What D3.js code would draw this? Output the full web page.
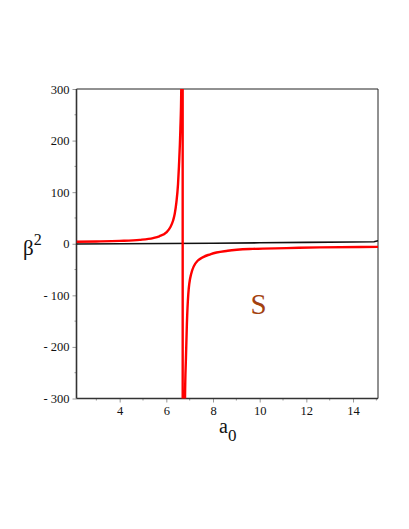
<!DOCTYPE html>
<html>
<head>
<meta charset="utf-8">
<script src="https://cdn.jsdelivr.net/npm/d3@7"></script>
<style>
  body { margin: 0; background: #fff; }
</style>
</head>
<body>
<div id="chart"></div>
<script>
// values
var xTicks = [4, 6, 8, 10, 12, 14];
var xMinor = [3, 5, 7, 9, 11, 13, 15];
var yTicks = [-300, -200, -100, 0, 100, 200, 300];
var yMinor = [-250, -150, -50, 50, 150, 250];

// red curve (one branch each side of the pole, joined across it)
var a0Red = [2.15, 3, 4, 4.86, 5.43, 5.7, 6.0, 6.17, 6.29, 6.36, 6.43, 6.5, 6.54, 6.6, 6.64, 6.695,
             6.705, 6.8, 6.84, 6.88, 6.94, 7.06, 7.34, 7.91, 8.63, 9.71, 11.14, 12.57, 15.07];
var beta2Red = [4, 4.5, 5.5, 7.5, 11, 14.5, 22, 32, 45, 58, 80, 115, 150, 220, 300, 2500,
                -2500, -300, -221, -156, -98, -59, -33, -20, -13.6, -10, -8.5, -7, -6];

// black curve, close to zero
var a0Black = [2.15, 4, 6, 8, 10, 12, 14, 14.9, 15.07];
var beta2Black = [-0.5, 0, 0.5, 1, 1.8, 2.6, 3.4, 4, 6];

var serif = "'Liberation Serif', 'Times New Roman', serif";

var W = 409, H = 529;
var margin = {top: 89, right: 31, bottom: 130.5, left: 76.5};
var width = W - margin.left - margin.right,
    height = H - margin.top - margin.bottom;

var svg = d3.select("#chart").append("svg")
  .attr("width", W)
  .attr("height", H);

var g = svg.append("g")
  .attr("transform", "translate(" + margin.left + "," + margin.top + ")");

var x = d3.scaleLinear().domain([2.15, 15.07]).range([0, width]);
var y = d3.scaleLinear().domain([-300, 300]).range([height, 0]);

g.append("clipPath").attr("id", "clip")
  .append("rect").attr("width", width).attr("height", height);

// minor ticks
g.selectAll("line.xminor").data(xMinor).enter().append("line")
  .attr("x1", function(d) { return x(d); }).attr("x2", function(d) { return x(d); })
  .attr("y1", height).attr("y2", height + 2)
  .attr("stroke", "#999");
g.selectAll("line.yminor").data(yMinor).enter().append("line")
  .attr("y1", function(d) { return y(d); }).attr("y2", function(d) { return y(d); })
  .attr("x1", 0).attr("x2", -2)
  .attr("stroke", "#999");

// axes
var xAxis = g.append("g")
  .attr("transform", "translate(0," + height + ")")
  .call(d3.axisBottom(x).tickValues(xTicks).tickSize(4).tickPadding(4));
var yAxis = g.append("g")
  .call(d3.axisLeft(y).tickValues(yTicks).tickSize(4).tickPadding(3)
    .tickFormat(function(d) { return d < 0 ? "- " + (-d) : d; }));

[xAxis, yAxis].forEach(function(a) {
  a.attr("font-family", serif).attr("font-size", 12.5);
  a.select(".domain").remove();
  a.selectAll(".tick line").attr("stroke", "#999");
  a.selectAll(".tick text").attr("fill", "#111");
});

// frame
g.append("line").attr("x1", 0).attr("x2", width).attr("y1", 0).attr("y2", 0)
  .attr("stroke", "#222").attr("stroke-width", 1);
g.append("line").attr("x1", width).attr("x2", width).attr("y1", 0).attr("y2", height)
  .attr("stroke", "#222").attr("stroke-width", 1);
g.append("line").attr("x1", 0).attr("x2", 0).attr("y1", 0).attr("y2", height)
  .attr("stroke", "#333").attr("stroke-width", 1.6);
g.append("line").attr("x1", 0).attr("x2", width).attr("y1", height).attr("y2", height)
  .attr("stroke", "#333").attr("stroke-width", 1.6);

var line = d3.line()
  .x(function(d) { return x(d[0]); })
  .y(function(d) { return y(d[1]); });

var plot = g.append("g").attr("clip-path", "url(#clip)");

plot.append("path")
  .datum(d3.zip(a0Black, beta2Black))
  .attr("fill", "none")
  .attr("stroke", "#111")
  .attr("stroke-width", 1.6)
  .attr("d", line);

plot.append("path")
  .datum(d3.zip(a0Red, beta2Red))
  .attr("fill", "none")
  .attr("stroke", "#ff0000")
  .attr("stroke-width", 2.4)
  .attr("stroke-linejoin", "round")
  .attr("d", line.curve(d3.curveMonotoneX));

// region label
g.append("text")
  .attr("x", x(9.95))
  .attr("y", y(-137))
  .attr("text-anchor", "middle")
  .attr("fill", "#a3410f")
  .attr("font-family", serif)
  .attr("font-size", 29)
  .text("S");

// axis titles
var xt = svg.append("text")
  .attr("x", 219)
  .attr("y", 433)
  .attr("font-family", serif)
  .attr("font-size", 20)
  .attr("fill", "#111");
xt.append("tspan").text("a");
xt.append("tspan").attr("dy", 8).attr("font-size", 17).text("0");

var yt = svg.append("text")
  .attr("x", 23)
  .attr("y", 255)
  .attr("font-family", serif)
  .attr("font-size", 21)
  .attr("fill", "#111");
yt.append("tspan").text("\u03b2");
yt.append("tspan").attr("dy", -10).attr("font-size", 16).text("2");
</script>
</body>
</html>
